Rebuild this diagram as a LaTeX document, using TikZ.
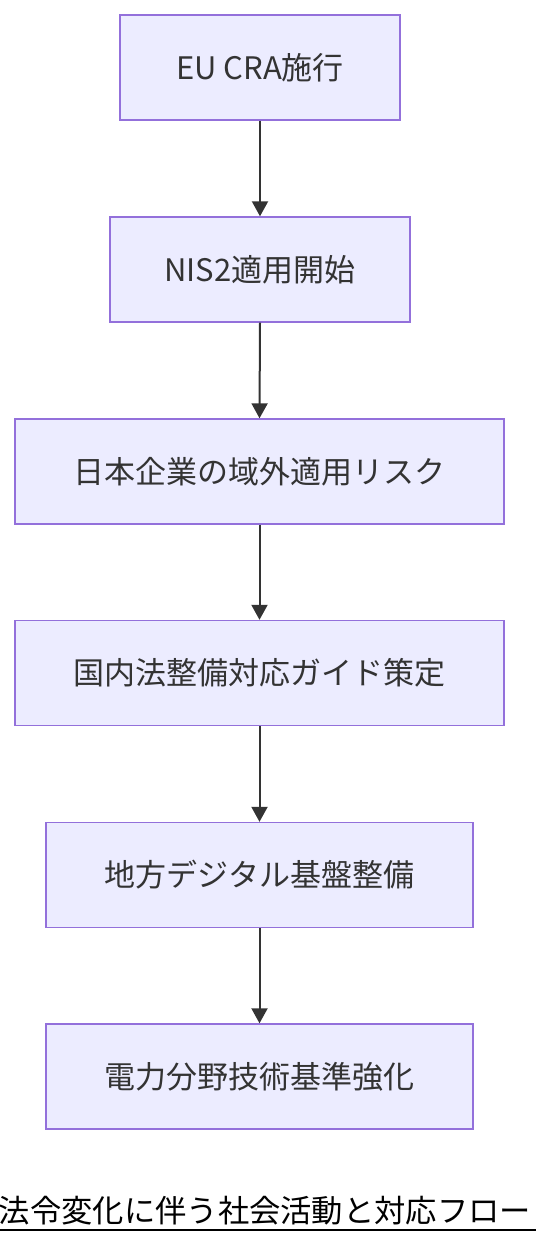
\documentclass[tikz,border=0pt]{standalone}
\usepackage{fontspec}
\setmainfont{Noto Sans CJK JP}
\usetikzlibrary{arrows.meta}
\definecolor{boxfill}{HTML}{ECECFF}
\definecolor{boxline}{HTML}{9370DB}
\definecolor{arrowc}{HTML}{333333}
\definecolor{textc}{HTML}{333333}
\tikzset{
  flowbox/.style={draw=boxline, fill=boxfill, line width=1.4pt, rectangle,
    minimum height=105pt, inner sep=0pt, text=textc,
    font=\fontsize{31}{36}\selectfont},
  flowarrow/.style={draw=arrowc, line width=2pt,
    -{Triangle[length=15pt,width=16pt]}},
}
\begin{document}
\begin{tikzpicture}[x=1pt,y=-1pt]
\useasboundingbox (0,0) rectangle (536,1244);
\node[flowbox, minimum width=280pt] (a) at (260,67.5) {EU CRA施行};
\node[flowbox, minimum width=300pt] (b) at (260,269.5) {NIS2適用開始};
\node[flowbox, minimum width=489pt] (c) at (259.5,471.5) {日本企業の域外適用リスク};
\node[flowbox, minimum width=489pt] (d) at (259.5,673) {国内法整備対応ガイド策定};
\node[flowbox, minimum width=427pt] (e) at (259.5,875) {地方デジタル基盤整備};
\node[flowbox, minimum width=427pt] (f) at (259.5,1076.5) {電力分野技術基準強化};
\draw[flowarrow] (a.south) -- (b.north);
\draw[flowarrow] (b.south) -- (c.north);
\draw[flowarrow] (c.south) -- (d.north);
\draw[flowarrow] (d.south) -- (e.north);
\draw[flowarrow] (e.south) -- (f.north);
\node[font=\fontsize{31.3}{36}\selectfont, text=black, inner sep=0pt] (t) at (265,1211) {法令変化に伴う社会活動と対応フロー};
\coordinate (ul) at (0,1230);
\coordinate (ur) at (536,1230);
\draw[black, line width=1.2pt] (ul) -- (ur);
\end{tikzpicture}
\end{document}
